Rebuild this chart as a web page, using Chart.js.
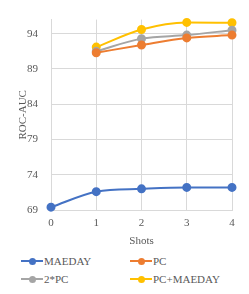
<!DOCTYPE html>
<html>
<head>
<meta charset="utf-8">
<script src="https://cdn.jsdelivr.net/npm/chart.js@4/dist/chart.umd.min.js"></script>
<style>
  body { margin: 0; background: #fff; }
  #wrap { position: relative; width: 249px; height: 294px; }
  #legend { position: absolute; left: 0; top: 254px; width: 249px; font-family: "Liberation Serif", serif; font-size: 11px; color: #595959; }
  .item { position: absolute; height: 14px; line-height: 14px; white-space: nowrap; }
  .mark { position: absolute; left: 0; top: 6px; width: 22px; height: 2px; }
  .dot { position: absolute; left: 8px; top: 4px; width: 7px; height: 7px; border-radius: 50%; }
  .txt { position: absolute; left: 23px; top: 0; }
</style>
</head>
<body>
<div id="wrap">
  <canvas id="grafico" width="249" height="248"></canvas>
  <div id="legend"></div>
</div>
<script>
// valores
const shots = ['0', '1', '2', '3', '4'];
const maeday = [69.4, 71.6, 72.0, 72.2, 72.2];
const pc = [null, 91.3, 92.4, 93.4, 93.8];
const pc2 = [null, 91.5, 93.3, 93.8, 94.5];
const pcMaeday = [null, 92.1, 94.6, 95.6, 95.55];
const yTicks = [69, 74, 79, 84, 89, 94];

const nomes = ['MAEDAY', 'PC', '2*PC', 'PC+MAEDAY'];
const cores = ['#4472C4', '#ED7D31', '#A5A5A5', '#FFC000'];
const series = [maeday, pc, pc2, pcMaeday];

const fonte = { family: '"Liberation Serif", serif', size: 11 };
const cinza = '#595959';
const grade = '#D9D9D9';

const datasets = series.map((dados, i) => ({
  label: nomes[i],
  data: dados,
  borderColor: cores[i],
  backgroundColor: cores[i],
  borderWidth: 2,
  pointRadius: 3.5,
  pointHoverRadius: 3.5,
  tension: 0.35,
  cubicInterpolationMode: 'monotone',
  clip: false
}));

new Chart(document.getElementById('grafico'), {
  type: 'line',
  data: { labels: shots, datasets: datasets },
  options: {
    responsive: false,
    animation: false,
    spanGaps: false,
    layout: { padding: { top: 5, right: 17, left: 0, bottom: 0 } },
    plugins: { legend: { display: false }, tooltip: { enabled: false } },
    scales: {
      x: {
        offset: false,
        grid: { color: grade, drawTicks: false },
        border: { color: grade },
        ticks: { font: fonte, color: cinza, padding: 7, maxRotation: 0 },
        title: { display: true, text: 'Shots', font: fonte, color: cinza, padding: { top: 2, bottom: 0 } },
        afterFit: s => { s.height = 38; }
      },
      y: {
        min: 69,
        max: 96,
        grid: { color: grade, drawTicks: false },
        border: { color: grade },
        ticks: { font: fonte, color: cinza, padding: 13 },
        afterBuildTicks: s => { s.ticks = yTicks.map(v => ({ value: v })); },
        title: { display: true, text: 'ROC-AUC', font: fonte, color: cinza, padding: { top: 17, bottom: 0 } },
        afterFit: s => { s.width = 51; }
      }
    }
  }
});

// legenda em duas colunas
const legenda = document.getElementById('legend');
const posicoes = [[21, 0], [130, 0], [21, 18], [130, 18]];
nomes.forEach((nome, i) => {
  const item = document.createElement('div');
  item.className = 'item';
  item.style.left = posicoes[i][0] + 'px';
  item.style.top = posicoes[i][1] + 'px';
  item.innerHTML = '<span class="mark" style="background:' + cores[i] + '"></span>' +
    '<span class="dot" style="background:' + cores[i] + '"></span>' +
    '<span class="txt">' + nome + '</span>';
  legenda.appendChild(item);
});
</script>
</body>
</html>
